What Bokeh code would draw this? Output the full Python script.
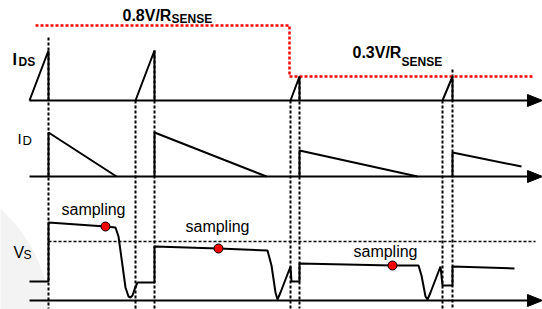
from bokeh.plotting import figure
from bokeh.models import Range1d
from bokeh.core.properties import value
from bokeh.embed import file_html
from bokeh.resources import INLINE

FONT = "Liberation Sans"

# ---------------- data (diagram units: time -> x, level -> y, y grows downward) -------------
# switching instants
t_on = [29, 135, 290, 442]          # switch turn-on
t_off = [48, 154, 299, 452]         # switch turn-off
# I_DS ramps
ids_peak = [50, 50, 76, 76]
# I_D secondary current (peak at turn-off, then decays)
id_peak = [132, 132, 150, 152]
id_end_t = [116, 266, 417, 521]
id_end_v = [176, 176, 176, 166]
# current limit (dashed red): 0.8V/Rsense then 0.3V/Rsense
limit_t = [35, 289, 289, 532]
limit_v = [25, 25, 76, 76]
# dashed timing markers
mark_t = [48, 135, 154, 290, 299, 442, 452]
mark_top = [37, 100, 50, 100, 76, 100, 69]
mark_bottom = 308
# auxiliary winding voltage V_S
vs_t = [29, 48, 48, 105, 115, 118, 122, 125, 128, 130, 132, 134, 137, 154, 154, 218, 267,
        271, 275, 277, 280, 290, 291, 299, 299, 392, 418, 421, 425, 427, 430, 440, 442,
        452, 452, 514]
vs_v = [281, 281, 222, 226, 227, 236, 265, 287, 296, 297, 295, 289, 282, 282, 246, 248, 250,
        265, 292, 299, 292, 266, 281, 281, 263, 265, 265, 275, 296, 299, 292, 266, 285,
        285, 266, 268]
vs_ref_level = 241
vs_ref_t = [48, 535]
# sampling points
samp_t = [105, 218, 392]
samp_v = [226, 248, 265]
samp_label_t = [93, 217, 385]
samp_label_v = [209, 226, 251]
# panel baselines (I_DS, I_D, V_S)
baselines = [100, 176, 300]
axis_start = 29
axis_end = 542

# ---------------- figure ----------------
p = figure(width=542, height=309, x_range=Range1d(0, 542), y_range=Range1d(309, 0),
           output_backend="svg", toolbar_location=None, min_border=0)
p.axis.visible = False
p.grid.visible = False
p.outline_line_color = None
p.background_fill_color = "white"
p.border_fill_color = "white"

# faint background shape at lower left
p.circle(x=[-100], y=[320], radius=150, fill_color="#f3f3f3", line_color=None)

# dashed timing markers
p.segment(x0=mark_t, y0=mark_top, x1=mark_t, y1=[mark_bottom] * len(mark_t),
          line_color="black", line_width=2, line_dash="3 2")

# horizontal dashed reference in V_S panel
p.line(x=vs_ref_t, y=[vs_ref_level] * 2, line_color="black", line_width=1.5, line_dash="3 2")

# baselines with arrowheads
head_len, head_half = 15, 6
for b in baselines:
    p.line(x=[axis_start, axis_end - head_len + 2], y=[b, b], line_color="black", line_width=2)
    p.patch(x=[axis_end - head_len, axis_end, axis_end - head_len],
            y=[b - head_half, b, b + head_half], fill_color="black", line_color="black")

# current limit
p.line(x=limit_t, y=limit_v, line_color="#ff0000", line_width=2.5, line_dash="3 2")

# I_DS ramps
for a, b, pk in zip(t_on, t_off, ids_peak):
    p.line(x=[a, b, b], y=[baselines[0], pk, baselines[0]], line_color="black", line_width=2)

# I_D decays
for b, pk, et, ev in zip(t_off, id_peak, id_end_t, id_end_v):
    p.line(x=[b, b, et], y=[baselines[1], pk, ev], line_color="black", line_width=2)

# V_S
p.line(x=vs_t, y=vs_v, line_color="black", line_width=2)
p.scatter(x=samp_t, y=samp_v, size=9, fill_color="#ff0000", line_color="black", line_width=1)

# texts
def txt(x, y, s, size, bold=False, align="left"):
    p.text(x=[x], y=[y], text=[s], text_font=value(FONT), text_font_size=size,
           text_font_style="bold" if bold else "normal", text_color="black",
           text_align=align, text_baseline="alphabetic")

for x, y in zip(samp_label_t, samp_label_v):
    txt(x, y, "sampling", "16px", align="center")

txt(122, 15, "0.8V/R", "16px", bold=True)
txt(171, 18, "SENSE", "12px", bold=True)
txt(352, 52, "0.3V/R", "16px", bold=True)
txt(401, 61, "SENSE", "12px", bold=True)

txt(12, 59, "I", "16px", bold=True)
txt(18, 61, "DS", "12px", bold=True)
txt(17, 138, "I", "15px")
txt(22, 140, "D", "13px")
txt(13, 252, "V", "16px")
txt(23, 254, "S", "12px")

open("out.html", "w").write(file_html(p, INLINE))
